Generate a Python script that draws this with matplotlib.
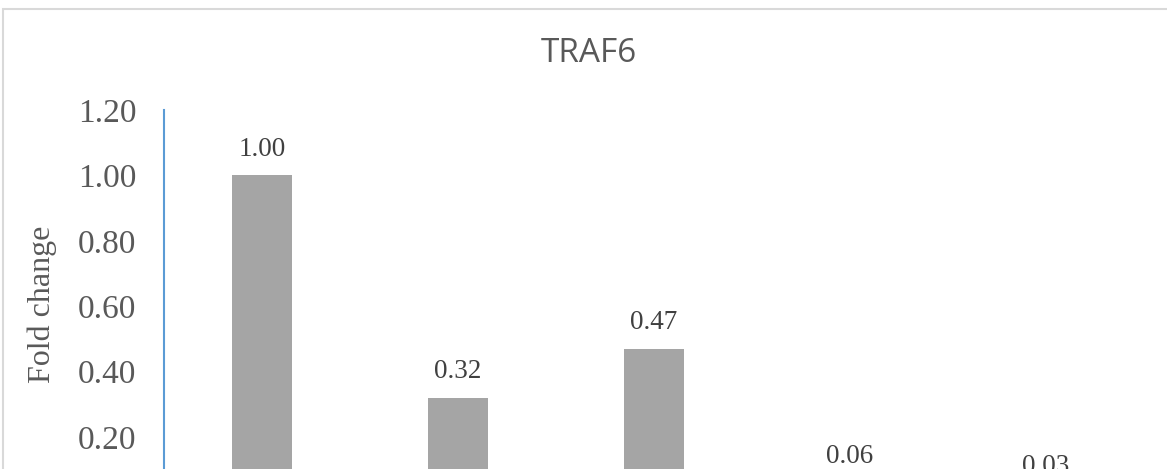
import matplotlib.pyplot as plt
from matplotlib.patches import Rectangle

# data
categories = ["C1", "C2", "C3", "C4", "C5"]
fold_change = [1.00, 0.32, 0.47, 0.06, 0.03]
yticks = [0.0, 0.2, 0.4, 0.6, 0.8, 1.0, 1.2]

W, H = 1167, 469
fig = plt.figure(figsize=(W / 100, H / 100), dpi=100)

# chart frame (runs off the right and bottom of the picture)
fig.patches.append(Rectangle((3 / W, -0.5), 1.5, 1 - 9 / H + 0.5,
                             transform=fig.transFigure, fill=False,
                             edgecolor="#D9D9D9", linewidth=1.5))

# axes placed so that the zero line falls below the cropped picture
ax_top = 110
ax_zero = 502.6
ax = fig.add_axes([164 / W, 1 - ax_zero / H, 980 / W, (ax_zero - ax_top) / H])

x = list(range(len(categories)))
ax.bar(x, fold_change, width=0.31, color="#A5A5A5")
ax.set_xlim(-0.5, len(categories) - 0.5)
ax.set_ylim(0, 1.2)

for xi, v in zip(x, fold_change):
    ax.annotate(f"{v:.2f}", (xi, v), xytext=(0, 10), textcoords="offset points",
                ha="center", va="bottom", fontsize=19.5,
                family="Liberation Serif", color="#404040")

ax.set_yticks(yticks)
ax.set_yticklabels([f"{t:.2f}" for t in yticks], family="Liberation Serif",
                   fontsize=24, color="#595959")
ax.tick_params(axis="y", length=0, pad=20)
ax.set_xticks([])

for s in ["top", "right", "bottom"]:
    ax.spines[s].set_visible(False)
ax.spines["left"].set_color("#5B9BD5")
ax.spines["left"].set_linewidth(1.5)

fig.text(42 / W, 1 - 304 / H, "Fold change", rotation=90, ha="center",
         va="center", family="Liberation Serif", fontsize=23, color="#595959")
fig.text(589 / W, 1 - 53 / H, "TRAF6", ha="center", va="center",
         family="Open Sans", fontsize=24, color="#595959")

fig.savefig("out.png", dpi=100)
